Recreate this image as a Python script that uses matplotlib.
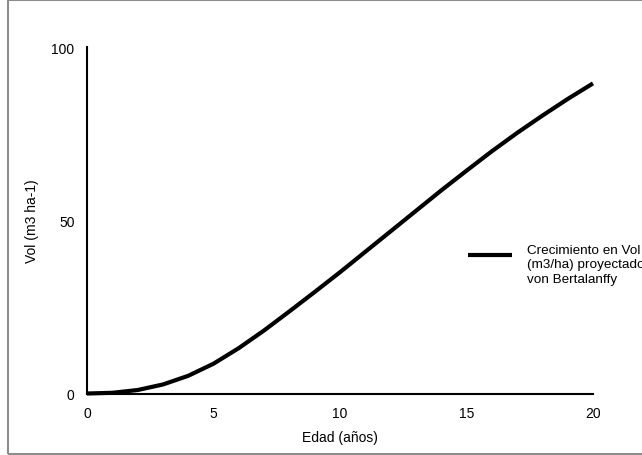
import matplotlib
matplotlib.use("Agg")
import matplotlib.pyplot as plt
from matplotlib.patches import Rectangle
from matplotlib.legend_handler import HandlerLine2D
from matplotlib.lines import Line2D

plt.rcParams['font.family'] = ['Liberation Sans', 'DejaVu Sans']

# Data
edad = [0, 1, 2, 3, 4, 5, 6, 7, 8, 9, 10, 11, 12, 13, 14, 15, 16, 17, 18, 19, 20]
vol = [0, 0.2, 1.0, 2.6, 5.1, 8.6, 13.1, 18.2, 23.7, 29.3, 35.0, 40.9, 46.8,
       52.7, 58.6, 64.3, 69.9, 75.2, 80.2, 85.0, 89.5]
serie_label = "Crecimiento en Vol\n(m3/ha) proyectado\nvon Bertalanffy"
xticks = [0, 5, 10, 15, 20]
yticks = [0, 50, 100]


class RaisedHandler(HandlerLine2D):
    """Legend line drawn near the first text line (as in the original)."""
    def create_artists(self, legend, orig_handle, xdescent, ydescent,
                       width, height, fontsize, trans):
        arts = super().create_artists(legend, orig_handle, xdescent, ydescent,
                                      width, height, fontsize, trans)
        for a in arts:
            if isinstance(a, Line2D):
                a.set_ydata([y + 0.7 * fontsize for y in a.get_ydata()])
        return arts


W, H = 642, 456
fig = plt.figure(figsize=(W / 100, H / 100), dpi=100)
fig.patch.set_facecolor('white')

# outer chart border
fig.patches.append(Rectangle((8 / W, 1 - 455 / H), (W + 10 - 8) / W, (455 - 1) / H,
                             transform=fig.transFigure, fill=False,
                             edgecolor='#8c8c8c', linewidth=1.5))

ax = fig.add_axes([87 / W, 1 - 394.5 / H, (593 - 87) / W, (394.5 - 48) / H])
line, = ax.plot(edad, vol, color='black', linewidth=3.0, solid_capstyle='butt',
                solid_joinstyle='round', label=serie_label, clip_on=False)
ax.set_xlim(0, 20)
ax.set_ylim(0, 100)
ax.set_xticks(xticks)
ax.set_yticks(yticks)
ax.tick_params(length=0, labelsize=10, pad=9)
for s in ['top', 'right']:
    ax.spines[s].set_visible(False)
for s in ['left', 'bottom']:
    ax.spines[s].set_linewidth(1.5)
    ax.spines[s].set_color('black')
ax.set_xlabel("Edad (años)", fontsize=10, labelpad=7)
ax.set_ylabel("Vol (m3 ha-1)", fontsize=10, labelpad=9)

leg = fig.legend(loc='upper left', bbox_to_anchor=(468 / W, 1 - 245 / H),
                 frameon=False, fontsize=9.7, handlelength=3.3, handletextpad=1.1,
                 borderpad=0, borderaxespad=0,
                 handler_map={Line2D: RaisedHandler()})
for t in leg.get_texts():
    t.set_linespacing(1.26)
fig.savefig("out.png", dpi=100)
